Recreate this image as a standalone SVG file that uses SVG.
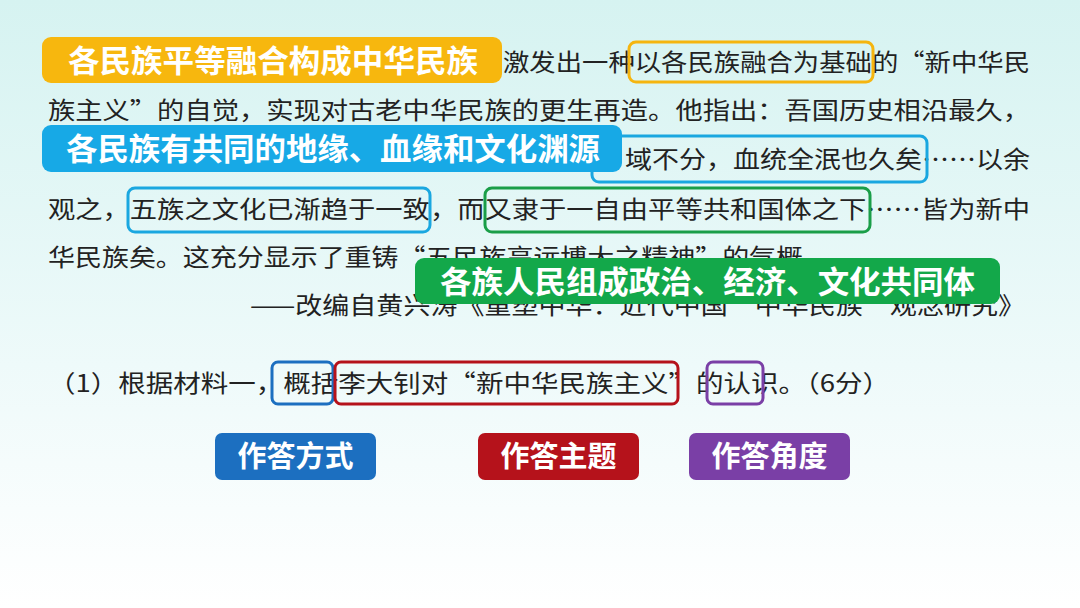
<svg xmlns="http://www.w3.org/2000/svg" width="1080" height="608" viewBox="0 0 1080 608">
<defs>
<linearGradient id="bg" x1="0" y1="0" x2="0" y2="1">
<stop offset="0" stop-color="#d6f3f1"/><stop offset="0.6" stop-color="#eefafa"/><stop offset="1" stop-color="#ffffff"/>
</linearGradient>
<style>
.t{font-family:"Noto Sans CJK SC","Noto Sans",sans-serif;font-size:24px;fill:#222}
.lb{font-family:"Noto Sans CJK SC",sans-serif;font-size:31px;font-weight:bold;fill:#fff}
.bt{font-family:"Noto Sans CJK SC",sans-serif;font-size:29px;font-weight:bold;fill:#fff;text-anchor:middle}
.b{fill:none;stroke-width:3}
</style>
</defs>
<rect width="1080" height="608" fill="url(#bg)"/>
<g id="text">
<text class="t" x="503" y="71" textLength="527" lengthAdjust="spacingAndGlyphs">激发出一种以各民族融合为基础的“新中华民</text>
<text class="t" x="48" y="119" textLength="982" lengthAdjust="spacingAndGlyphs">族主义”的自觉，实现对古老中华民族的更生再造。他指出：吾国历史相沿最久，</text>
<text class="t" x="625" y="168" textLength="405" lengthAdjust="spacingAndGlyphs">域不分，血统全泯也久矣……以余</text>
<text class="t" x="48" y="218" textLength="982" lengthAdjust="spacingAndGlyphs">观之，五族之文化已渐趋于一致，而又隶于一自由平等共和国体之下……皆为新中</text>
<text class="t" x="48" y="266" textLength="782" lengthAdjust="spacingAndGlyphs">华民族矣。这充分显示了重铸“五民族高远博大之精神”的气概。</text>
<text class="t" x="250" y="314" textLength="775" lengthAdjust="spacingAndGlyphs">——改编自黄兴涛《重塑中华：近代中国“中华民族”观念研究》</text>
<text class="t" x="48" y="392" textLength="842" lengthAdjust="spacingAndGlyphs">（1）根据材料一，概括李大钊对“新中华民族主义”的认识。（6分）</text>
</g>
<g id="boxes">
<rect class="b" x="629" y="42" width="244" height="40" rx="7" stroke="#f5b50f"/>
<rect class="b" x="592" y="136" width="335" height="46" rx="7" stroke="#1aa7e0"/>
<rect class="b" x="128" y="188" width="302" height="44" rx="7" stroke="#1aa7e0"/>
<rect class="b" x="485" y="188" width="385" height="44" rx="7" stroke="#1a9e48"/>
<rect class="b" x="272" y="362" width="61" height="42" rx="6" stroke="#1c6fc0"/>
<rect class="b" x="335" y="362" width="343" height="42" rx="6" stroke="#b5121b"/>
<rect class="b" x="707" y="362" width="56" height="42" rx="6" stroke="#7a3fa6"/>
</g>
<g id="label-orange"><rect x="42" y="37" width="460" height="46" rx="9" fill="#f7b70e"/><text class="lb" x="68" y="72" textLength="410" lengthAdjust="spacingAndGlyphs">各民族平等融合构成中华民族</text></g>
<g id="label-blue"><rect x="42" y="125" width="580" height="47" rx="9" fill="#17a9e6"/><text class="lb" x="66" y="160" textLength="534" lengthAdjust="spacingAndGlyphs">各民族有共同的地缘、血缘和文化渊源</text></g>
<g id="label-green"><rect x="415" y="258" width="585" height="46" rx="9" fill="#13a84a"/><text class="lb" x="440" y="293" textLength="535" lengthAdjust="spacingAndGlyphs">各族人民组成政治、经济、文化共同体</text></g>
<g id="btn1"><rect x="215" y="433" width="161" height="47" rx="7" fill="#1c6fc0"/><text class="bt" x="295.5" y="467">作答方式</text></g>
<g id="btn2"><rect x="478" y="433" width="161" height="47" rx="7" fill="#b5121b"/><text class="bt" x="558.5" y="467">作答主题</text></g>
<g id="btn3"><rect x="689" y="433" width="161" height="47" rx="7" fill="#7a3fa6"/><text class="bt" x="769.5" y="467">作答角度</text></g>
</svg>
